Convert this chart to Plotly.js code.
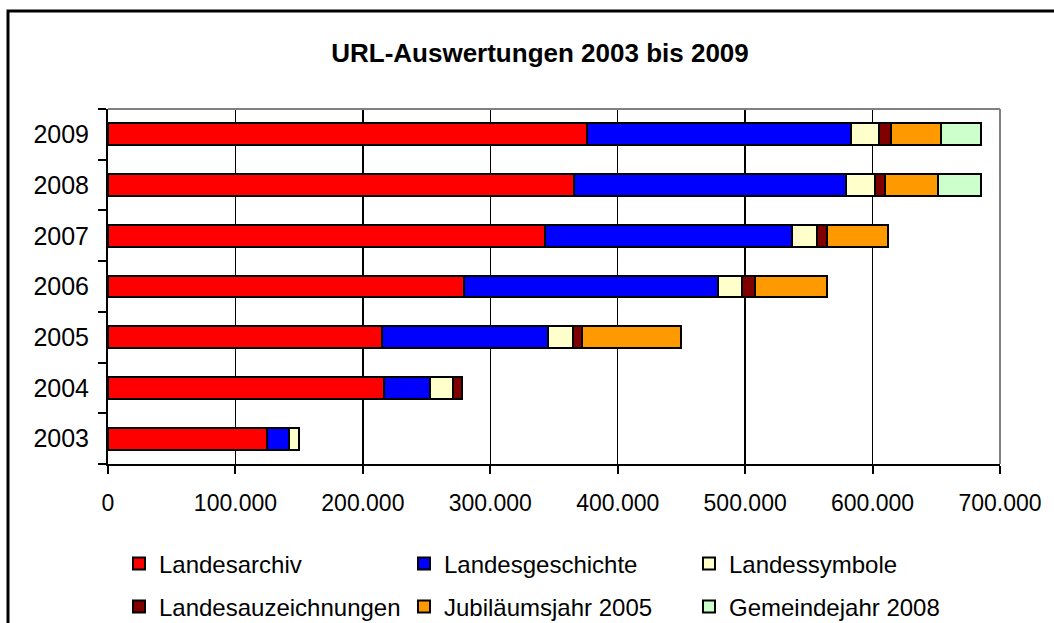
<!DOCTYPE html>
<html><head><meta charset="utf-8">
<script src="https://cdn.plot.ly/plotly-3.0.1.min.js"></script>
<style>html,body{margin:0;padding:0;background:#fff;} #chart{width:1054px;height:623px;}</style>
</head><body><div id="chart"></div>
<script>
const years = ['2003','2004','2005','2006','2007','2008','2009'];
const seriesNames = ['Landesarchiv','Landesgeschichte','Landessymbole','Landesauzeichnungen','Jubiläumsjahr 2005','Gemeindejahr 2008'];
const seriesColors = ['#FF0000','#0000FF','#FFFFCC','#800000','#FF9900','#CCFFCC'];
const landesarchiv        = [125000, 216800, 215000, 279400, 342800, 365700, 376000];
const landesgeschichte    = [16700, 36000, 130000, 199300, 193900, 213300, 207000];
const landessymbole       = [8500, 18000, 20200, 18900, 19300, 22900, 22000];
const landesauzeichnungen = [null, 7200, 6700, 10300, 8600, 8100, 9500];
const jubilaeumsjahr2005  = [null, null, 77400, 56700, 47600, 41400, 39000];
const gemeindejahr2008    = [null, null, null, null, null, 33800, 31600];
const xTickVals = [0, 100000, 200000, 300000, 400000, 500000, 600000, 700000];
const xTickText = ['0','100.000','200.000','300.000','400.000','500.000','600.000','700.000'];

const seriesValues = [landesarchiv, landesgeschichte, landessymbole, landesauzeichnungen, jubilaeumsjahr2005, gemeindejahr2008];
const FONT = 'Liberation Sans, Arial, sans-serif';

const traces = seriesValues.map((vals, i) => ({
  type: 'bar',
  orientation: 'h',
  name: seriesNames[i],
  y: years,
  x: vals,
  marker: {color: seriesColors[i], line: {color: '#000', width: 2}},
  legend: i < 3 ? 'legend' : 'legend2',
  hoverinfo: 'x+name'
}));

const legendBase = {
  orientation: 'h', x: 0.0123, xanchor: 'left', yanchor: 'middle',
  entrywidth: 240, entrywidthmode: 'pixels', traceorder: 'normal',
  font: {family: FONT, size: 24, color: '#000'}, bgcolor: 'rgba(0,0,0,0)'
};

const layout = {
  width: 1054, height: 623,
  margin: {l: 108, r: 54, t: 109, b: 159, autoexpand: false},
  paper_bgcolor: '#fff', plot_bgcolor: '#fff',
  font: {family: FONT, color: '#000'},
  barmode: 'stack', bargap: 0.57,
  showlegend: true,
  title: {text: 'URL-Auswertungen 2003 bis 2009', font: {family: FONT, size: 26, weight: 700, color: '#000'},
          xref: 'container', yref: 'container', x: 540/1054, xanchor: 'center', y: 1 - 53/623, yanchor: 'middle'},
  xaxis: {range: [0, 700000], tickvals: xTickVals, ticktext: xTickText,
          showgrid: true, gridcolor: '#000', gridwidth: 1.5, zeroline: false,
          showline: true, linecolor: '#000', linewidth: 2,
          ticks: 'outside', ticklen: 8, tickwidth: 2, tickcolor: '#000',
          tickfont: {family: FONT, size: 23, color: '#000'}, ticklabelstandoff: 9, fixedrange: true},
  yaxis: {type: 'category', categoryorder: 'array', categoryarray: years,
          showgrid: false, zeroline: false,
          showline: true, linecolor: '#000', linewidth: 2,
          ticks: 'outside', tickson: 'boundaries', ticklen: 8, tickwidth: 2, tickcolor: '#000',
          tickfont: {family: FONT, size: 25, color: '#000'}, ticklabelstandoff: 12, fixedrange: true},
  legend: Object.assign({}, legendBase, {y: (464-564)/355}),
  legend2: Object.assign({}, legendBase, {y: (464-607)/355}),
  shapes: [
    {type: 'line', xref: 'paper', yref: 'paper', x0: 0, x1: 1, y0: 1, y1: 1, line: {color: '#808080', width: 2}},
    {type: 'line', xref: 'paper', yref: 'paper', x0: 1, x1: 1, y0: 0, y1: 1, line: {color: '#808080', width: 2}},
    {type: 'rect', xref: 'paper', yref: 'paper', x0: (8-108)/892, x1: (1070-108)/892, y0: (464-650)/355, y1: (464-11)/355,
     line: {color: '#000', width: 3}, fillcolor: 'rgba(0,0,0,0)', layer: 'above'}
  ]
};

Plotly.newPlot('chart', traces, layout, {displayModeBar: false, staticPlot: true});
</script>
</body></html>
